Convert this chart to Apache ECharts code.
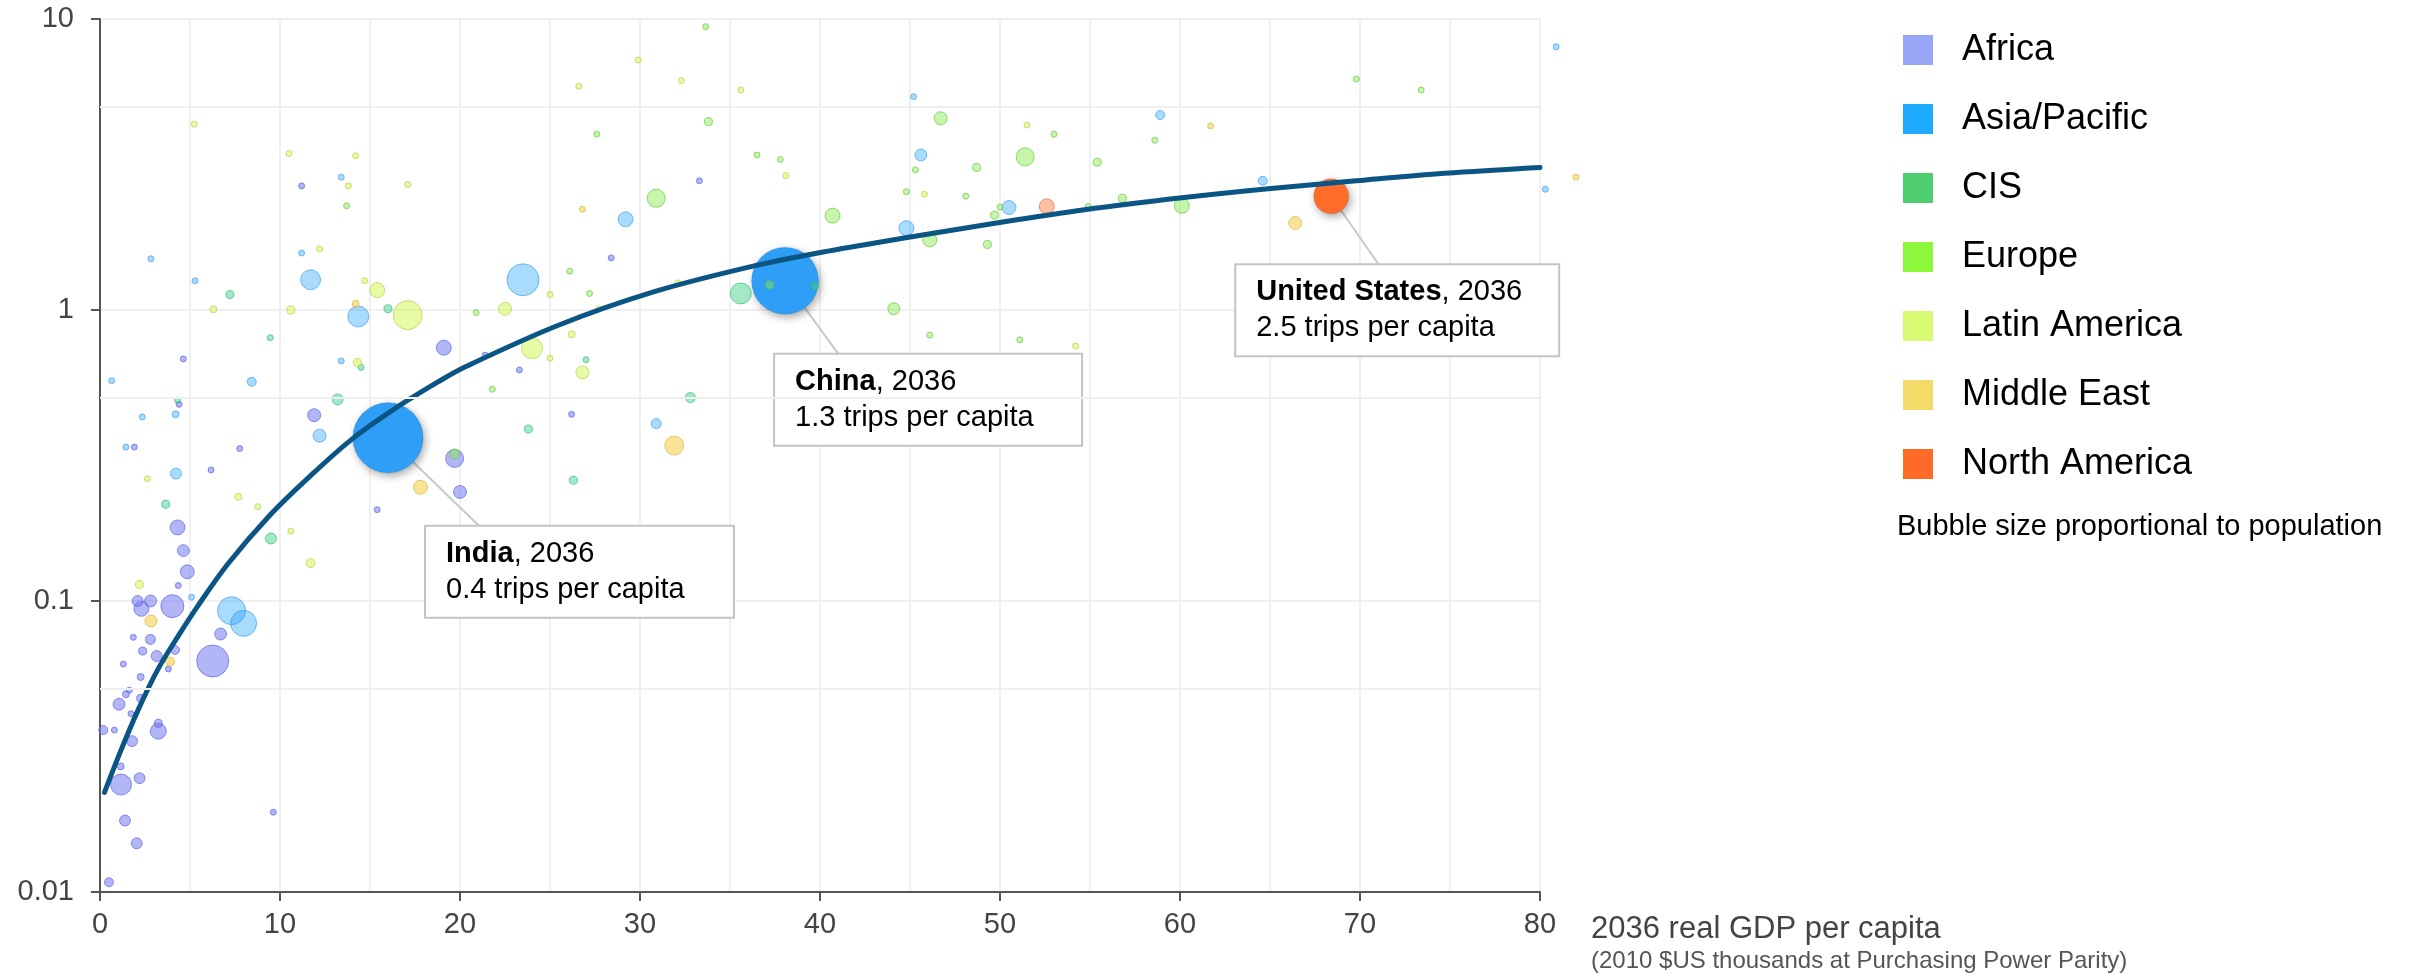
<!DOCTYPE html>
<html>
<head>
<meta charset="utf-8">
<script src="https://cdn.jsdelivr.net/npm/echarts@6/dist/echarts.min.js"></script>
<style>
  html, body { margin: 0; padding: 0; background: #fff; }
  #chart { width: 2420px; height: 977px; }
</style>
</head>
<body>
<div id="chart"></div>
<script>
// ---- data -------------------------------------------------------------
const regions = ['Africa', 'Asia/Pacific', 'CIS', 'Europe', 'Latin America', 'Middle East', 'North America'];

// each point: [2036 GDP per capita (2010 $US k, PPP), trips per capita, population (millions)]
const africa = [
  [6.26, 0.0622, 316], [4.02, 0.096, 163], [1.17, 0.0234, 136], [19.7, 0.309, 100],
  [3.24, 0.0357, 79], [19.1, 0.742, 69], [4.31, 0.179, 69], [2.3, 0.094, 69],
  [4.85, 0.126, 60], [11.9, 0.435, 52], [20.0, 0.237, 52], [4.63, 0.149, 44],
  [2.81, 0.10, 44], [6.7, 0.077, 44], [1.06, 0.0442, 44], [2.09, 0.10, 37],
  [3.15, 0.0647, 37], [1.78, 0.033, 37], [2.2, 0.0246, 37], [1.39, 0.0176, 37],
  [2.04, 0.0147, 37], [2.8, 0.0738, 31], [4.17, 0.0679, 25], [0.18, 0.036, 25],
  [0.5, 0.0108, 25], [2.37, 0.0673, 20], [2.26, 0.0463, 20], [3.24, 0.038, 20],
  [2.26, 0.0548, 15], [1.44, 0.0478, 15], [1.15, 0.027, 15], [11.2, 2.67, 11],
  [4.63, 0.679, 11], [4.39, 0.474, 11], [1.91, 0.338, 11], [7.76, 0.334, 11],
  [6.17, 0.282, 11], [15.4, 0.206, 11], [4.35, 0.113, 11], [1.85, 0.075, 11],
  [3.8, 0.0584, 11], [1.3, 0.0607, 11], [1.63, 0.0494, 11], [1.72, 0.041, 11],
  [0.8, 0.036, 11], [9.63, 0.0188, 11], [33.3, 2.78, 11], [28.4, 1.51, 11],
  [23.3, 0.622, 11], [21.4, 0.70, 11], [26.2, 0.438, 11]
];
const asiaPacific = [
  [23.5, 1.27, 316], [7.31, 0.0926, 242], [7.98, 0.0838, 209], [14.35, 0.95, 136],
  [11.7, 1.27, 123], [29.2, 2.05, 69], [44.8, 1.91, 69], [50.5, 2.25, 60],
  [12.2, 0.37, 52], [45.6, 3.41, 44], [4.22, 0.274, 37], [30.9, 0.407, 31],
  [8.43, 0.567, 25], [58.9, 4.68, 25], [64.6, 2.78, 25], [4.2, 0.438, 15],
  [13.4, 2.86, 11], [2.83, 1.50, 11], [11.2, 1.57, 11], [5.28, 1.26, 11],
  [0.65, 0.571, 11], [13.4, 0.668, 11], [2.35, 0.429, 11], [1.44, 0.338, 11],
  [5.09, 0.103, 11], [80.9, 8.03, 11], [45.2, 5.41, 11], [80.3, 2.60, 11]
];
const cis = [
  [35.6, 1.14, 136], [13.2, 0.493, 37], [9.5, 0.164, 37], [32.8, 0.50, 31],
  [7.22, 1.13, 20], [16.0, 1.01, 20], [3.65, 0.215, 20], [39.7, 1.21, 20],
  [23.8, 0.39, 20], [26.3, 0.26, 20], [9.46, 0.803, 11], [14.5, 0.635, 11],
  [4.31, 0.49, 11], [27.0, 0.675, 11]
];
const europe = [
  [30.9, 2.42, 100], [51.4, 3.36, 100], [40.7, 2.11, 69], [60.1, 2.28, 69],
  [46.1, 1.74, 60], [46.7, 4.56, 52], [44.1, 1.01, 44], [19.7, 0.32, 31],
  [33.8, 4.44, 20], [37.2, 1.22, 20], [48.7, 3.09, 20], [55.4, 3.22, 20],
  [49.7, 2.12, 20], [56.8, 2.42, 20], [49.3, 1.68, 20], [13.7, 2.28, 11],
  [33.65, 9.41, 11], [27.6, 4.02, 11], [36.5, 3.41, 11], [37.8, 3.29, 11],
  [26.1, 1.36, 11], [27.2, 1.14, 11], [20.9, 0.98, 11], [21.8, 0.534, 11],
  [69.8, 6.22, 11], [73.4, 5.70, 11], [53.0, 4.02, 11], [58.6, 3.83, 11],
  [45.3, 3.03, 11], [44.8, 2.55, 11], [48.1, 2.46, 11], [50.0, 2.26, 11],
  [54.9, 2.27, 11], [46.1, 0.82, 11], [51.1, 0.79, 11]
];
const latinAmerica = [
  [17.1, 0.96, 260], [24.0, 0.739, 136], [15.4, 1.17, 69], [22.5, 1.01, 52],
  [26.8, 0.61, 52], [11.7, 0.135, 25], [10.6, 1.0, 20], [14.3, 0.66, 20],
  [2.19, 0.114, 20], [6.3, 1.005, 15], [7.69, 0.228, 15], [26.2, 0.825, 15],
  [5.24, 4.35, 11], [10.5, 3.45, 11], [14.2, 3.39, 11], [13.8, 2.67, 11],
  [17.1, 2.70, 11], [12.2, 1.62, 11], [14.7, 1.26, 11], [2.63, 0.263, 11],
  [8.76, 0.211, 11], [10.6, 0.174, 11], [29.9, 7.23, 11], [26.6, 5.87, 11],
  [32.3, 6.14, 11], [35.6, 5.70, 11], [38.1, 2.90, 11], [25.0, 1.13, 11],
  [27.7, 1.01, 11], [32.1, 1.24, 11], [25.0, 0.683, 11], [51.5, 4.32, 11],
  [45.8, 2.50, 11], [54.2, 0.752, 11]
];
const middleEast = [
  [31.9, 0.342, 110], [17.8, 0.246, 60], [66.4, 1.99, 52], [2.83, 0.0854, 44],
  [3.89, 0.0619, 25], [14.2, 1.05, 15], [26.8, 2.22, 11], [61.7, 4.29, 11],
  [82.0, 2.86, 11]
];
const northAmerica = [
  [52.6, 2.27, 69]
];

// highlighted countries
const calloutNames = ['India', 'China', 'United States'];
const calloutRegions = ['Asia/Pacific', 'Asia/Pacific', 'North America'];
const calloutGdp = [16.0, 38.06, 68.4];
const calloutTrips = [0.364, 1.26, 2.46];
const calloutPop = [1530, 1390, 380];
const calloutYear = '2036';

// fitted relationship between income and trips
const trendGdp = [0.25, 1.1, 2.1, 3.2, 4.5, 5.4, 7.1, 9.4, 11.6, 14, 16.4, 18.8, 20.3,
  25.5, 30.8, 36.4, 40.1, 44.5, 49.8, 54.7, 60.1, 64.9, 69.8, 74.7, 80];
const trendTrips = [0.022, 0.030, 0.042, 0.058, 0.0785, 0.0955, 0.134, 0.196, 0.266, 0.36,
  0.459, 0.567, 0.638, 0.888, 1.156, 1.42, 1.58, 1.76, 1.99, 2.21, 2.43, 2.61, 2.78, 2.95, 3.09];

const yTickLabels = ['0.01', '0.1', '1', '10'];
const yMinorGrid = [0.05, 0.5, 5];

// ---- styling -----------------------------------------------------------
const FONT = "'Liberation Sans', Arial, Helvetica, sans-serif";
const legendColors = ['#98a6f8', '#1eaafe', '#4dcf6f', '#8cf73b', '#d8fa72', '#f4da68', '#fe6a27'];
const bubbleFill = [
  'rgba(112,120,240,0.68)', 'rgba(40,165,250,0.5)', 'rgba(60,210,140,0.6)',
  'rgba(135,235,80,0.6)', 'rgba(212,248,95,0.7)', 'rgba(245,212,90,0.8)', 'rgba(255,110,50,0.55)'
];
const bubbleBorder = [
  'rgba(90,98,226,0.85)', 'rgba(30,140,235,0.7)', 'rgba(40,180,110,0.8)',
  'rgba(100,200,60,0.85)', 'rgba(180,205,70,0.85)', 'rgba(215,180,60,0.85)', 'rgba(230,90,40,0.8)'
];
const solidFill = { 'Asia/Pacific': '#2e9ef7', 'North America': '#fe6c2a' };

// callout box placement relative to its bubble (pixels)
const calloutPlacement = [
  { line: [92, 89], box: [38, 89], width: 267 },
  { line: [54, 74], box: [-10, 74], width: 266 },
  { line: [48, 69], box: [-95, 69], width: 282 }
];

const regionData = [africa, asiaPacific, cis, europe, latinAmerica, middleEast, northAmerica];
const bubbleSize = v => Math.max(6, 1.8 * Math.sqrt(v[2]));

const scatterSeries = regions.map((name, i) => {
  const data = regionData[i].map(d => ({ value: d }));
  calloutNames.forEach((c, k) => {
    if (calloutRegions[k] !== name) return;
    data.push({
      name: c,
      value: [calloutGdp[k], calloutTrips[k], calloutPop[k]],
      itemStyle: {
        color: solidFill[name], opacity: 1, borderColor: 'rgba(0,0,0,0.08)', borderWidth: 1,
        shadowBlur: 8, shadowColor: 'rgba(0,0,0,0.35)', shadowOffsetX: 2, shadowOffsetY: 3
      }
    });
  });
  return {
    type: 'scatter', name, data, clip: false, z: 2,
    symbolSize: bubbleSize,
    itemStyle: { color: bubbleFill[i], borderColor: bubbleBorder[i], borderWidth: 1 },
    emphasis: { disabled: true }
  };
});

const calloutSeries = {
  type: 'custom', name: 'callouts', coordinateSystem: 'cartesian2d', z: 1, silent: true,
  data: calloutNames.map((n, k) => [calloutGdp[k], calloutTrips[k], k]),
  renderItem(params, api) {
    const k = api.value(2);
    const p = api.coord([api.value(0), api.value(1)]);
    const pl = calloutPlacement[k];
    const txt = '{b|' + calloutNames[k] + '}{r|, ' + calloutYear + '}\n{r|' +
      calloutTrips[k].toFixed(1) + ' trips per capita}';
    return {
      type: 'group',
      children: [
        { type: 'line', shape: { x1: p[0], y1: p[1], x2: p[0] + pl.line[0], y2: p[1] + pl.line[1] },
          style: { stroke: '#c9c9c9', lineWidth: 2 } },
        { type: 'text', x: p[0] + pl.box[0], y: p[1] + pl.box[1],
          style: {
            text: txt, align: 'left', verticalAlign: 'top', width: pl.width,
            backgroundColor: '#fff', borderColor: '#c4c4c4', borderWidth: 2, padding: [9, 20, 9, 20],
            rich: {
              b: { fontFamily: FONT, fontSize: 29, fontWeight: 'bold', fill: '#000', lineHeight: 36 },
              r: { fontFamily: FONT, fontSize: 29, fill: '#000', lineHeight: 36 }
            }
          } }
      ]
    };
  }
};

const minorGridSeries = {
  type: 'line', name: 'minorGrid', data: [], silent: true, z: 1,
  markLine: {
    silent: true, symbol: 'none', animation: false, label: { show: false },
    lineStyle: { color: '#efefef', width: 2, type: 'solid' },
    data: yMinorGrid.map(v => ({ yAxis: v }))
  }
};

// trend curve: one smooth path through the fitted points, placed by the axes
const trendSeries = {
  type: 'custom', name: 'trend', coordinateSystem: 'cartesian2d', z: 4, silent: true,
  data: [[trendGdp[0], trendTrips[0]]],
  renderItem(params, api) {
    const pts = trendGdp.map((g, i) => api.coord([g, trendTrips[i]]));
    return {
      type: 'polyline',
      shape: { points: pts, smooth: 0.35 },
      style: { stroke: '#0b5585', lineWidth: 5, fill: null, lineCap: 'round', lineJoin: 'round' }
    };
  }
};

const chart = echarts.init(document.getElementById('chart'));
chart.setOption({
  animation: false,
  backgroundColor: '#fff',
  textStyle: { fontFamily: FONT },
  grid: { left: 100, right: 880, top: 19, bottom: 85, containLabel: false, outerBoundsMode: 'none' },
  title: {
    text: 'Bubble size proportional to population',
    left: 1897, top: 512, padding: 0,
    textStyle: { fontFamily: FONT, fontSize: 29, fontWeight: 'normal', color: '#000' }
  },
  legend: {
    orient: 'vertical', left: 1898, top: 27,
    icon: 'rect', itemWidth: 30, itemHeight: 30, itemGap: 33,
    selectedMode: false,
    textStyle: { fontFamily: FONT, fontSize: 36, color: '#000', padding: [0, 0, 0, 24] },
    data: regions.map((n, i) => ({
      name: n, itemStyle: { color: legendColors[i], borderWidth: 0, opacity: 1, shadowBlur: 0 }
    }))
  },
  xAxis: {
    type: 'value', min: 0, max: 80, interval: 10,
    axisLine: { show: true, onZero: false, lineStyle: { color: '#555', width: 2 } },
    axisTick: { show: true, length: 9, lineStyle: { color: '#555', width: 2 } },
    axisLabel: { fontFamily: FONT, fontSize: 29, color: '#444', margin: 18 },
    splitLine: { show: true, lineStyle: { color: '#f0f0f0', width: 2 } },
    minorTick: { show: false, splitNumber: 2 },
    minorSplitLine: { show: true, lineStyle: { color: '#f0f0f0', width: 2 } },
    name: '{a|2036 real GDP per capita}\n{b|(2010 $US thousands at Purchasing Power Parity)}',
    nameLocation: 'end', nameGap: 51,
    nameTextStyle: {
      align: 'left', verticalAlign: 'top', padding: [20, 0, 0, 0],
      rich: {
        a: { fontFamily: FONT, fontSize: 31, color: '#444', lineHeight: 34 },
        b: { fontFamily: FONT, fontSize: 24, color: '#555', lineHeight: 30 }
      }
    }
  },
  yAxis: {
    type: 'log', logBase: 10, min: 0.01, max: 10,
    axisLine: { show: true, lineStyle: { color: '#555', width: 2 } },
    axisTick: { show: true, length: 9, lineStyle: { color: '#555', width: 2 } },
    axisLabel: {
      fontFamily: FONT, fontSize: 29, color: '#444', margin: 26,
      formatter: v => yTickLabels[Math.round(Math.log10(v)) + 2]
    },
    splitLine: { show: true, lineStyle: { color: '#f0f0f0', width: 2 } }
  },
  series: [minorGridSeries, calloutSeries, ...scatterSeries, trendSeries]
});
</script>
</body>
</html>
